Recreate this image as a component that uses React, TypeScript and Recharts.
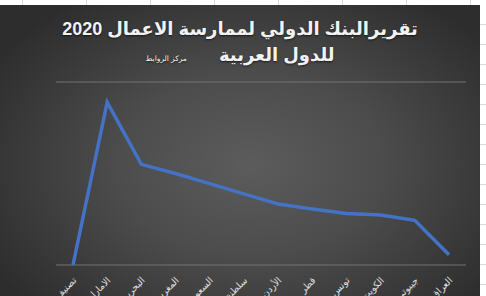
import React from "react";
import { LineChart, Line, XAxis, YAxis, CartesianGrid } from "recharts";

const countries = [
  "تصنيف",
  "الامارات",
  "البحرين",
  "المغرب",
  "السعودية",
  "سلطنة عمان",
  "الأردن",
  "قطر",
  "تونس",
  "الكويت",
  "جيبوتي",
  "العراق",
];
const scores = [0, 80, 49.5, 45, 40, 35, 30, 27.5, 25.3, 24.6, 22, 5];
const yTicks = [0, 10, 20, 30, 40, 50, 60, 70, 80, 90];

const data = countries.map((name, i) => ({ name, value: scores[i] }));

const arabicFont = "'Liberation Sans', 'DejaVu Sans', sans-serif";

function CountryTick({ x, y, payload }: any) {
  const tx = x + 4;
  const ty = y + 8;
  return (
    <text
      x={tx}
      y={ty}
      transform={`rotate(-45 ${tx} ${ty})`}
      textAnchor="end"
      fill="#e0e0e0"
      fontSize={9.5}
      fontFamily={arabicFont}
    >
      {payload.value}
    </text>
  );
}

export default function App() {
  return (
    <div
      style={{
        position: "relative",
        width: 486,
        height: 296,
        background: "#fff",
        overflow: "hidden",
      }}
    >
      <style>{"body{margin:0}"}</style>
      {/* spreadsheet cells peeking out round the chart */}
      {Array.from({ length: 8 }, (_, i) => (
        <div
          key={"v" + i}
          style={{
            position: "absolute",
            left: 22 + i * 64,
            top: 0,
            width: 1,
            height: 5,
            background: "#d9d9d9",
          }}
        />
      ))}
      {Array.from({ length: 14 }, (_, i) => (
        <div
          key={"h" + i}
          style={{
            position: "absolute",
            left: 480,
            top: 24 + i * 20,
            width: 6,
            height: 1,
            background: "#d9d9d9",
          }}
        />
      ))}
      <div
        style={{
          position: "absolute",
          left: 0,
          top: 5,
          width: 480,
          height: 291,
          background:
            "radial-gradient(ellipse 62% 70% at 52% 55%, #5c5c5c 0%, #4c4c4c 45%, #2d2d2d 100%)",
        }}
      >
        <div
          style={{
            position: "absolute",
            top: 13,
            left: 0,
            width: 480,
            textAlign: "center",
            direction: "rtl",
            color: "#f2f2f2",
            fontFamily: arabicFont,
            fontWeight: "bold",
            fontSize: 18,
            lineHeight: "23px",
            textShadow: "0 1px 2px rgba(0,0,0,0.6)",
          }}
        >
          <div>تقريرالبنك الدولي لممارسة الاعمال 2020</div>
          <div style={{ marginTop: 3 }}>
            <span>للدول العربية</span>
            <span
              style={{ fontSize: 7.5, fontWeight: "normal", marginRight: 32 }}
            >
              مركز الروابط
            </span>
          </div>
        </div>
        <LineChart
          width={480}
          height={291}
          data={data}
          margin={{ top: 77, right: 14, bottom: 1, left: 56 }}
        >
          <CartesianGrid vertical={false} stroke="#727272" />
          <XAxis
            dataKey="name"
            interval={0}
            axisLine={false}
            tickLine={false}
            height={30}
            padding={{ left: 17, right: 17 }}
            tick={<CountryTick />}
          />
          <YAxis
            width={0}
            domain={[0, 90]}
            ticks={yTicks}
            tick={false}
            axisLine={false}
            tickLine={false}
          />
          <Line
            type="linear"
            dataKey="value"
            stroke="#4472c4"
            strokeWidth={3.5}
            dot={false}
            activeDot={false}
            isAnimationActive={false}
          />
        </LineChart>
      </div>
    </div>
  );
}
